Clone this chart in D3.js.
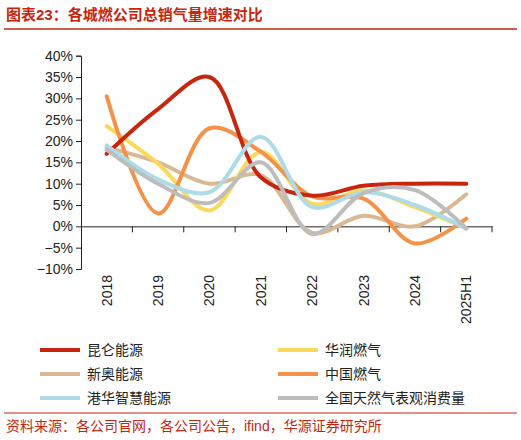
<!DOCTYPE html>
<html><head><meta charset="utf-8">
<script src="https://cdn.jsdelivr.net/npm/d3@7"></script>
<style>body{margin:0;background:#fff;font-family:"Liberation Sans","Noto Sans CJK SC",sans-serif}</style>
</head><body><div id="chart"></div>
<script>
var years = ["2018","2019","2020","2021","2022","2023","2024","2025H1"];
var names = ["昆仑能源","华润燃气","新奥能源","中国燃气","港华智慧能源","全国天然气表观消费量"];
var colors = ["#c8250f","#fcd95b","#d9b994","#f4924a","#aedbe8","#bdbdbd"];
var kunlun = [17, 27.5, 35, 11.5, 7.2, 9.5, 10, 10];
var huarun = [23.5, 14.7, 3.7, 17.4, 5.3, 8.4, 4.5, -0.5];
var xinao = [18.5, 15, 10, 12, -1.5, 2.5, 0, 7.5];
var zhongran = [30.5, 3, 23, 17.5, 7, 6.5, -4, 1.8];
var ganghua = [19, 11, 8, 21, 4.5, 8, 5, -0.5];
var national = [18, 10, 5.5, 15, -1.8, 7.8, 8.5, -0.5];
var series = [kunlun, huarun, xinao, zhongran, ganghua, national];
var yTicks = [-10,-5,0,5,10,15,20,25,30,35,40];

var w = 521, h = 440;
var svg = d3.select("#chart").append("svg").attr("width", w).attr("height", h);

// title
svg.append("text").attr("x", 6).attr("y", 20).attr("fill", "#c8250f")
	.style("font-size", "15px").style("font-weight", "bold").text("图表23：各城燃公司总销气量增速对比");
svg.append("line").attr("x1", 4).attr("x2", 517).attr("y1", 29).attr("y2", 29)
	.attr("stroke", "#c8250f").attr("stroke-width", 1.5);

var x = d3.scaleBand().domain(years).range([81, 492]);
var y = d3.scaleLinear().domain([-10, 40]).range([269, 55.7]);

svg.append("g").attr("transform", "translate(81,0)")
	.call(d3.axisLeft(y).tickValues(yTicks).tickSize(5).tickFormat(function(d){ return (d < 0 ? "\u2212" + (-d) : d) + "%"; }))
	.call(function(g){
		g.selectAll("text").style("font-size", "14px").attr("fill", "#222").attr("font-family", "Liberation Sans");
		g.selectAll("line,path").attr("stroke", "#222");
	});

// zero axis with ticks
var xa = svg.append("g").attr("transform", "translate(0," + y(0) + ")")
	.call(d3.axisBottom(x).tickSize(0).tickFormat(""));
xa.select("path").attr("stroke", "#222");
xa.selectAll(".bt").data(years).enter().append("line")
	.attr("x1", function(d){ return x(d) + x.bandwidth(); })
	.attr("x2", function(d){ return x(d) + x.bandwidth(); })
	.attr("y1", 0).attr("y2", 6).attr("stroke", "#222");

// x labels rotated
svg.selectAll(".xl").data(years).enter().append("text")
	.attr("transform", function(d){ return "translate(" + (x(d) + x.bandwidth()/2 + 5) + ",275)rotate(-90)"; })
	.attr("text-anchor", "end").style("font-size", "14px").attr("fill", "#222").text(function(d){ return d; });

var line = d3.line()
	.x(function(d, i){ return x(years[i]) + x.bandwidth()/2; })
	.y(function(d){ return y(d); })
	.curve(d3.curveCatmullRom.alpha(0.5));

var order = [2, 1, 3, 0, 4, 5];
order.forEach(function(k){
	svg.append("path").datum(series[k]).attr("d", line)
		.attr("fill", "none").attr("stroke", colors[k]).attr("stroke-width", 4)
		.attr("stroke-linecap", "round");
});

// legend
var lx = [40, 278], ly = [350, 374, 398];
names.forEach(function(n, i){
	var cx = lx[i % 2], cy = ly[Math.floor(i / 2)];
	svg.append("line").attr("x1", cx).attr("x2", cx + 40).attr("y1", cy).attr("y2", cy)
		.attr("stroke", colors[i]).attr("stroke-width", 4);
	svg.append("text").attr("x", cx + 47).attr("y", cy + 5).style("font-size", "14px")
		.attr("fill", "#222").text(n);
});

// source
svg.append("line").attr("x1", 4).attr("x2", 517).attr("y1", 413).attr("y2", 413)
	.attr("stroke", "#c8250f").attr("stroke-width", 1);
svg.append("text").attr("x", 6).attr("y", 431).attr("fill", "#c8250f").style("font-size", "14px")
	.text("资料来源：各公司官网，各公司公告，ifind，华源证券研究所");
</script></body></html>
